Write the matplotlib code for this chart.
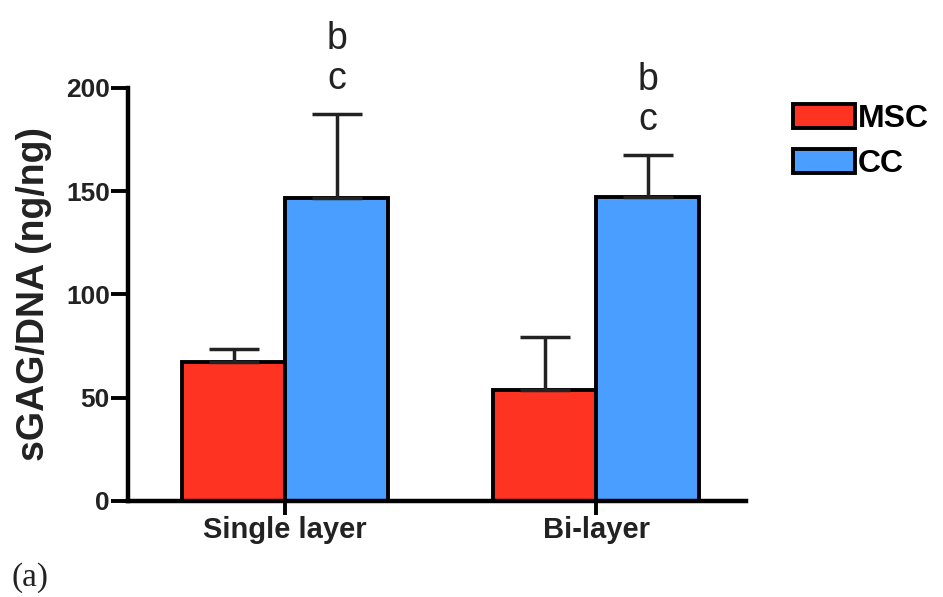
import matplotlib
matplotlib.use("Agg")
import matplotlib.pyplot as plt
import numpy as np

groups = ["Single layer", "Bi-layer"]
series = ["MSC", "CC"]
msc_mean = [67.3, 53.8]
msc_err = [6.3, 25.6]
cc_mean = [146.7, 147.2]
cc_err = [40.7, 20.4]
letters = ["b\nc", "b\nc"]

red = "#ff3322"
blue = "#4a9eff"

plt.rcParams['font.family'] = ['Liberation Sans', 'DejaVu Sans']

fig = plt.figure(figsize=(9.43, 5.97), dpi=100)
ax = fig.add_axes([0.1357, 0.161, 0.655, 0.692])

x = np.arange(len(groups))
w = 0.331
ekw = dict(elinewidth=2.5, capthick=2.5, ecolor="#222222")
ax.bar(x - w / 2, msc_mean, w, color=red, edgecolor="black", linewidth=2.8,
       yerr=[np.zeros(2), msc_err], capsize=18, error_kw=ekw, label=series[0], zorder=2)
ax.bar(x + w / 2, cc_mean, w, color=blue, edgecolor="black", linewidth=2.8,
       yerr=[np.zeros(2), cc_err], capsize=18, error_kw=ekw, label=series[1], zorder=2)

# significance letters above CC bars
for i in range(len(groups)):
    top = cc_mean[i] + cc_err[i]
    ax.text(x[i] + w / 2, top + 8, letters[i], ha="center", va="bottom",
            fontsize=27, color="#222222", linespacing=1.15, clip_on=False)

ax.set_xlim(-0.505, 0.48 + 1)
ax.set_ylim(0, 200)
ax.set_yticks([0, 50, 100, 150, 200])
ax.set_xticks(x)
ax.set_xticklabels(groups)
for s in ["top", "right"]:
    ax.spines[s].set_visible(False)
for s in ["left", "bottom"]:
    ax.spines[s].set_linewidth(3.2)
ax.tick_params(axis="y", width=2.8, length=12, pad=1, labelsize=19)
ax.tick_params(axis="x", width=2.8, length=10, pad=1, labelsize=21)
for lab in ax.get_xticklabels() + ax.get_yticklabels():
    lab.set_fontweight("bold")
    lab.set_color("#222222")
ax.set_ylabel("sGAG/DNA (ng/ng)", fontsize=27, fontweight="bold", color="#222222", labelpad=10)

ax.legend(loc="upper left", bbox_to_anchor=(0.827, 0.847), bbox_transform=fig.transFigure,
          frameon=False, prop={"size": 23, "weight": "bold"}, handlelength=1.95,
          handleheight=0.78, handletextpad=0.1, labelspacing=0.45, borderaxespad=0)

fig.text(0.012, 0.018, "(a)", fontsize=24, family=["Liberation Serif", "DejaVu Serif"],
         color="#222222")

fig.savefig("out.png", dpi=100)
